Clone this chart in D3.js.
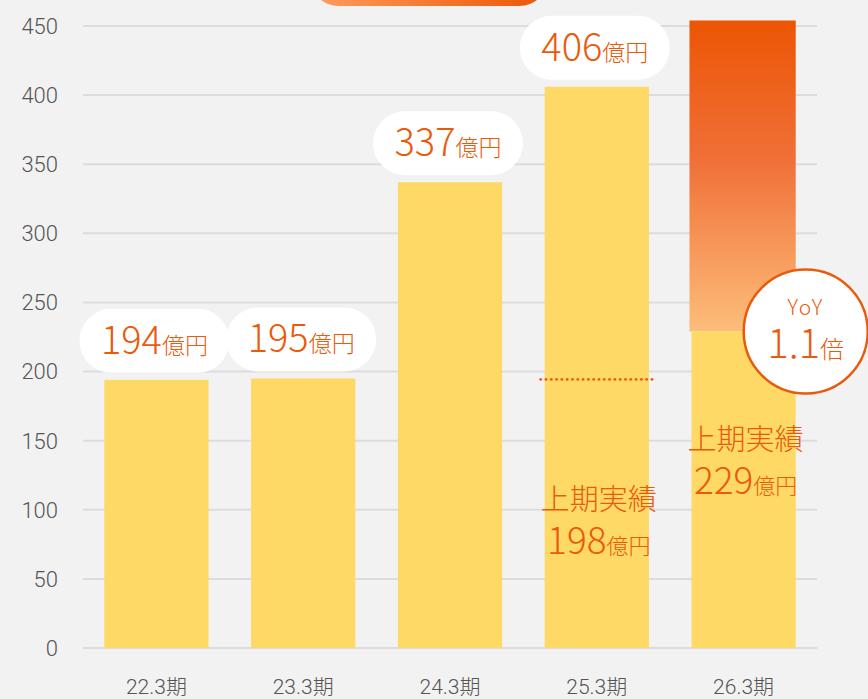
<!DOCTYPE html>
<html><head><meta charset="utf-8">
<script src="https://cdn.jsdelivr.net/npm/d3@7"></script>
<style>
html,body{margin:0;padding:0;background:#f2f2f2;}
svg{display:block;}
</style></head>
<body>
<svg id="c" width="868" height="699"></svg>
<script>
const categories = ["22.3期","23.3期","24.3期","25.3期","26.3期"];
const totals = [194,195,337,406,null];
const firstHalf = [null,null,null,198,229];
const forecastTop = [null,null,null,null,454];
const halfMarker = [null,null,null,195,null];
const yTicks = [0,50,100,150,200,250,300,350,400,450];
const yoyLabel = "1.1";

const W=868,H=699;
const FONT = "'Noto Sans CJK JP','Noto Sans',sans-serif";
const AXFONT = "Roboto,'Noto Sans CJK JP',sans-serif";
const ORANGE = "#ea5a0c";
const svg = d3.select("#c");
const x = d3.scaleBand().domain(categories).range([83,817]).paddingInner(0.29).paddingOuter(0.145);
const y = d3.scaleLinear().domain([0,450]).range([648,26]);

const defs = svg.append("defs");
const g1 = defs.append("linearGradient").attr("id","fc").attr("x1",0).attr("y1",0).attr("x2",0).attr("y2",1);
g1.append("stop").attr("offset","0%").attr("stop-color","#ec5504");
g1.append("stop").attr("offset","45%").attr("stop-color","#f07038");
g1.append("stop").attr("offset","100%").attr("stop-color","#fdbd7a");
const g2 = defs.append("linearGradient").attr("id","tp").attr("x1",0).attr("y1",0).attr("x2",1).attr("y2",0);
g2.append("stop").attr("offset","0%").attr("stop-color","#ff9d60");
g2.append("stop").attr("offset","100%").attr("stop-color","#ec5504");

// top cut-off pill
svg.append("rect").attr("x",309).attr("y",-60).attr("width",240).attr("height",66).attr("rx",30).attr("fill","url(#tp)");

// gridlines
svg.append("g").selectAll("line").data(yTicks).join("line")
  .attr("x1",83).attr("x2",817).attr("y1",d=>y(d)).attr("y2",d=>y(d))
  .attr("stroke","#dcdcdc").attr("stroke-width",2);

// y tick labels
svg.append("g").selectAll("text").data(yTicks).join("text")
  .attr("x",58).attr("y",d=>y(d)).attr("dy","0.36em").attr("text-anchor","end")
  .attr("font-family",AXFONT).attr("font-weight",300).attr("font-size",22).attr("fill","#555")
  .text(d=>d);

// x labels
svg.append("g").selectAll("text").data(categories).join("text")
  .attr("x",d=>x(d)+x.bandwidth()/2).attr("y",694).attr("text-anchor","middle")
  .attr("font-family",AXFONT).attr("font-weight",300).attr("font-size",21).attr("fill","#555")
  .text(d=>d);

const rows = categories.map((c,i)=>({c,total:totals[i],half:firstHalf[i],fc:forecastTop[i],mk:halfMarker[i]}));

// forecast gradient part
svg.append("g").selectAll("rect").data(rows.filter(r=>r.fc!=null)).join("rect")
  .attr("x",d=>x(d.c)-2).attr("width",x.bandwidth()+2)
  .attr("y",d=>y(d.fc)).attr("height",d=>y(d.half)-y(d.fc)).attr("fill","url(#fc)");

// yellow bars
svg.append("g").selectAll("rect").data(rows).join("rect")
  .attr("x",d=>x(d.c)).attr("width",x.bandwidth())
  .attr("y",d=>y(d.total!=null?d.total:d.half))
  .attr("height",d=>y(0)-y(d.total!=null?d.total:d.half)).attr("fill","#ffd966");

// dotted marker
rows.filter(r=>r.mk!=null).forEach(r=>{
  const dots = d3.range(x(r.c)-4, x(r.c)+x.bandwidth()+4, 5.3);
  svg.append("g").selectAll("circle").data(dots).join("circle")
    .attr("cx",d=>d).attr("cy",y(r.mk)+1).attr("r",1.4).attr("fill","#f05a14");
});

// value pills
const pw=150, ph=64;
const pillG = svg.append("g").selectAll("g").data(rows.filter(r=>r.total!=null)).join("g")
  .attr("transform",d=>`translate(${x(d.c)+x.bandwidth()/2-2},${y(d.total)-7-ph/2})`);
pillG.append("rect").attr("x",-pw/2).attr("y",-ph/2).attr("width",pw).attr("height",ph).attr("rx",ph/2).attr("fill","#fff");
const pt = pillG.append("text").attr("text-anchor","middle").attr("y",13)
  .attr("font-family",FONT).attr("font-weight",300).attr("fill",ORANGE);
pt.append("tspan").attr("font-size",38).text(d=>d.total);
pt.append("tspan").attr("font-size",23).text("億円");

// first half labels
const hl = svg.append("g").selectAll("g").data(rows.filter(r=>r.half!=null)).join("g")
  .attr("transform",d=>`translate(${x(d.c)+x.bandwidth()/2+2},${d.fc!=null?450:510})`);
hl.append("text").attr("text-anchor","middle").attr("font-family",FONT).attr("font-weight",300).attr("font-size",29)
  .attr("fill",ORANGE).text("上期実績");
const ht = hl.append("text").attr("text-anchor","middle").attr("y",44).attr("font-family",FONT).attr("font-weight",300).attr("fill",ORANGE);
ht.append("tspan").attr("font-size",37).text(d=>d.half);
ht.append("tspan").attr("font-size",22).text("億円");

// YoY circle
const last = rows[rows.length-1];
const cg = svg.append("g").attr("transform",`translate(${x(last.c)+x.bandwidth()+10},${y(last.half)})`);
cg.append("circle").attr("r",62).attr("fill","#fff").attr("stroke",ORANGE).attr("stroke-width",2.5);
cg.append("text").attr("text-anchor","middle").attr("y",-16).attr("font-family",FONT).attr("font-weight",300).attr("font-size",21)
  .attr("letter-spacing",1.5).attr("fill",ORANGE).text("YoY");
const yt = cg.append("text").attr("text-anchor","middle").attr("y",27).attr("font-family",FONT).attr("font-weight",300).attr("fill",ORANGE);
yt.append("tspan").attr("font-size",40).text(yoyLabel);
yt.append("tspan").attr("font-size",24).text("倍");
</script>
</body></html>
